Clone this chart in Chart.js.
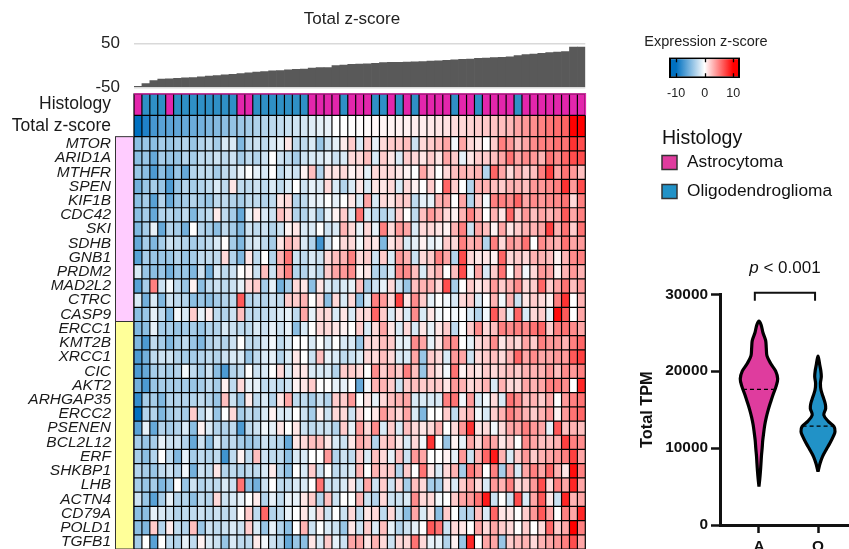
<!DOCTYPE html>
<html lang="en">
<head>
<meta charset="utf-8">
<title>Total z-score heatmap</title>
<script src="https://cdn.jsdelivr.net/npm/chart.js@4.4.1/dist/chart.umd.min.js"></script>
<style>
  html, body { margin: 0; padding: 0; background: #ffffff; }
  #stage { position: relative; width: 849px; height: 549px; overflow: hidden; background: #ffffff; }
  #stage canvas { position: absolute; }
</style>
</head>
<body>
<div id="stage">
  <canvas id="totals" width="704" height="92" style="left:0;top:0;width:704px;height:92px"></canvas>
  <canvas id="heatmap" width="600" height="461" style="left:0;top:88px;width:600px;height:461px"></canvas>
  <canvas id="scaleKey" width="172" height="85" style="left:620px;top:25px;width:172px;height:85px"></canvas>
  <canvas id="violin" width="229" height="429" style="left:620px;top:120px;width:229px;height:429px"></canvas>
</div>
<script>
// ---------------------------------------------------------------------------
// Data
// ---------------------------------------------------------------------------

// Histology of each sample, samples ordered by total z-score (A = astrocytoma, O = oligodendroglioma)
const histology = [
  'A','O','O','O','A',
  'O','O','O','O','O','O','O','O',
  'A','A',
  'O','O','O','O','O','O','O',
  'A','A','A','A',
  'O',
  'A','A','A',
  'O','O',
  'A','O','A','O',
  'A','A','A','A',
  'O','A','A','O',
  'A','A','A','A',
  'O',
  'A','A','A','A','A','A','A','A'
];

// Total z-score per sample
const totalZ = [
  -47.5, -41.5, -34.5, -31, -30.5, -29.5, -28.5, -27.5, -26, -24,
  -23, -21.5, -20, -18.5, -17, -15, -14, -12.5, -11.5, -10,
  -9, -8, -6, -5, -4.5, 0, 1, 2.5, 3, 4,
  5, 6.5, 7, 7.5, 7.8, 8.2, 9, 10, 10.8, 11.8,
  13, 14, 15, 16.2, 17, 18, 19, 20, 23, 25,
  26.3, 28, 29.5, 30.5, 31.8, 42.5, 42.5
];

// Gene groups shown by the coloured strip left of the heatmap
const genesGroup1 = ['MTOR','ARID1A','MTHFR','SPEN','KIF1B','CDC42','SKI','SDHB','GNB1','PRDM2','MAD2L2','CTRC','CASP9'];
const genesGroup2 = ['ERCC1','KMT2B','XRCC1','CIC','AKT2','ARHGAP35','ERCC2','PSENEN','BCL2L12','ERF','SHKBP1','LHB','ACTN4','CD79A','POLD1','TGFB1'];

// Expression z-score, one row per gene (same order as the gene lists), one value per sample
const exprZ = [
  [-4.5,-4,-4.5,-3.5,-4,-3.5,-3,-4,-3,-2.5,-3.5,-1.5,-1.5,-5,-2.5,-2,-2.5,-1.5,-1, 1,-2.5,-2.5,-1.5,-4,-2,-1,0.8,2,-1.5,2,-1,1.5,2,2,2.5,-2,1.5,2, 2.5,3.5,-0.5,3.5,1.5,1,0,2,5,4,2.5,3.5,4.5,5,5,5.5,5.5,8,7],
  [-4.5,-4,-6,-3.5,-4,-4,-3,-3.5,-2.5,-2.5,-2,-2.5,-2,-3.5,-2.5,-3,-2,0,-2, -2.5,-3.5,-2,-1.5,-1.5,-1,-2,-1.5,1.5,1.5,2.5,-1.5,2,1,-1.5,2,1.5,1,2, 1,3.5,2,-1,1,2,2,2.5,3.5,5.5,3.5,4.5,4,3,5.5,4.5,6,7,7],
  [-4,-4.5,-7,-4.5,-6,-4,-6,-3,-2.5,-2.5,-3.5,-2.5,-2,-1,0,-1,-1.5,0,-2.5, -1.5,-2,0.5,2.5,-3,1,1,1.5,0.5,1,-1,1.5,1.5,1.5,1,0.5,0,3.5,1.5, 0,1.5,2.5,3,2.5,3,-3,6,3.5,1.5,3,2,2.5,5,7.5,3.5,5.5,4,2.5],
  [-5.5,-4,-3.5,-4,-7,-4,-3,-3.5,-3,-2.5,-1.5,-2.5,1,-2.5,-2.5,-2,-2.5,-1.5,-2.5, -1.5,0,-2,-1,-1.5,1.5,-1.5,-3,-1.5,1,-1.5,1,1,1.5,-1.5,1.5,0.5,0,2, 0,6,2,0,-3,3,3,2.5,2,3,3,2.5,4,4,4.5,5,8,4,7],
  [-4.5,-3.5,-6.5,-3,-6,-4,-3.5,-3,-3.5,-4,-2.5,-2.5,-3,-3.5,-2.5,-2.5,-3,-2.5,1, 1.5,-3,-2.5,-1,-1,0,-1,0,1,-1.5,3.5,-1.5,1.5,1,2,2,-2.5,-1,-1, 3,3.5,0,3.5,-3,2,-0.5,5,5,4.5,6,3.5,4.5,4,4.5,4.5,5.5,1.5,5],
  [-4.5,-3.5,-6,-3,-3,-3.5,-2.5,-5,-3,-2.5,0.8,-2.5,-3.5,-6,-1,0.8,-1.5,-2,2.5, 1.5,-3,-3,-1.5,-3.5,-1,0.5,2,-1.5,5.5,-1.5,-2.5,-3,-2,2,0,-2.5,2.5,4, 3,1.5,0.5,3,5,3,0,3,1,6,2,4,2.5,3.5,3,3.5,6.5,3.5,5],
  [-5,-3.5,-1,-6,-3,-3.5,-5.5,0,-3,-3.5,-4.5,-2.5,-3.5,-5,-2,-2.5,-2,-3,-2, 0.5,1,-1.5,-1.5,0,-2,-1.5,3,1.5,-1,1.5,-1,5,1.5,4,3.5,-1.5,1.5,1.5, 1,0.5,3,5,-2,3.5,2.5,0.5,3.5,1,2,3,3,3.5,7.5,3,5.5,2,5.5],
  [-6,-3.5,-5,-3.5,-2,-2.5,-3,-3.5,-3,-2.5,-1.5,0,-3.5,-5,-2,-1.5,-2.5,-3.5,1, 3,2,-1.5,-3,-7.5,-2,0,1.5,1.5,-0.5,1.5,1,-5,1,2,-1.5,-1,0.5,-1, -0.5,2,1.5,5,3,3.5,-3,5,1.5,4,3.5,5.5,0,4.5,3.5,3,5.5,3.5,4],
  [-6.5,-3.5,-4,-4,-4,-3,-4,-3.5,-2.5,-2.5,-2.5,1.5,-3,-5,1,-2.5,0,-3,3, 5.5,-2,-2.5,-1.5,-2,1.5,2.5,3,5,1.5,2,-2,2,-1.5,4,3,-2,1.5,2, 5,3.5,-3,7,1.5,1,1,0.5,6,1.5,2,1.5,3,3,2.5,0.5,3,4.5,5],
  [-1.5,-4,-4.5,-4,-5.5,-4,-4,-5,-2,-5.5,-1.5,-2.5,-2,0,0.5,-2,2.5,-2,3, 5,-3,-3,-1.5,-2.5,2,3.5,4,4.5,0.5,1,-3,-3,-1.5,4.5,4.5,2.5,-1.5,2, 3,0,2.5,7,-0.5,3.5,-1.5,2,5.5,0,3,-0.5,1.5,4,3.5,0.5,3,4,3],
  [-6.5,-3.5,5,-2,-0.5,-2.5,-4,0.5,-4.5,-2.5,-2,-2.5,-2,-1,1.5,2,-3.5,-1,-5.5, -3.5,1.5,1,-4.5,1,-1.5,-2,-1.5,-1,2.5,-3.5,-2,-1,1.5,-2,-4,2.5,3,3, 1.5,7,-3.5,0,2,1,1.5,4,2,3,4.5,1.5,2,6,2,3.5,5.5,2.5,4],
  [-1.5,-5.5,-1.5,-5,-2,-2.5,-3,-4.5,-4,-4.5,-3.5,-3,-2.5,6.5,-3,-2.5,-3,-2,-2.5, 2,2,3,0,1.5,-4.5,1.5,-1.5,1.5,-4.5,-1.5,5,4,1.5,7.5,1,4.5,2,-1, 0,-0.5,-1.5,1.5,2,-1.5,0,3,-0.5,3,-2,1,2,1.5,0.5,5,8,0,3],
  [-4.5,-4,-1,-2.5,-5,-0.5,-1.5,2,-1,0.8,-2.5,-3,-2,2.5,-2.5,-2.5,-2.5,-2,-1.5, -1,-2.5,3.5,-1,1.5,1.5,-1.5,1,-1.5,1.5,1.5,6,2,-1.5,1,-1.5,4.5,-1.5,1, -0.5,0,-0.5,0,-1.5,-3,-0.5,6.5,2.5,-1,6,-1.5,1.5,2,-1,9.5,6.5,0,3.5],
  [-5,-4.5,-1,-3.5,-3.5,-4,-3.5,-3.5,-4,-3,-3,-1.5,-2,-2.5,-2.5,-1.5,-2,-1,-2, -1,-4.5,-1.5,0,1.5,1.5,1,0.5,0,2,-1.5,1.5,3.5,1,-1.5,1.5,-1.5,1,-1, 1,2,-2.5,0,2,4.5,1.5,2.5,5,4.5,5,4.5,5.5,6,2,5,5.5,4.5,3.5],
  [-5,-7,-2.5,-3.5,-5,-3.5,-2.5,-4,-5,-3,-2.5,-3,-2,0,-2.5,-2.5,-1.5,-0.5,-2.5, -1.5,0,0,-1.5,0,-1.5,0,-1.5,-1.5,-4,1.5,1.5,2.5,2,-1,-1,4.5,3.5,-1, 1,4,4.5,0,-1,1.5,2,4.5,1,2,1.5,3.5,2,5,4,4,3,5,6],
  [-7,-5.5,-2.5,-2,-2,-3,-3.5,-3.5,-3,-2.5,-3,-2,-1.5,-1.5,-4,-2.5,-1.5,-1,-3, -1.5,1,0,-2,2.5,-1,-1.5,-2.5,-2,-1.5,1.5,1.5,2.5,1.5,-1.5,-1.5,3.5,-4,2, 1.5,-1.5,4,3.5,-2,1.5,2,2.5,1.5,3,6,3.5,4.5,3.5,3.5,4,4,6.5,7.5],
  [-7,-6,-3.5,-3,-3.5,-3,-0.5,-2.5,-3.5,-2,-4.5,-7,-3,-2.5,0,-2,-1.5,0,1.5, -1.5,1,1,-1.5,-1.5,-1.5,-3,2,2,1.5,0,4.5,2,3,2,5,2.5,-4,2, 1,-0.5,5.5,0.5,1.5,1,2,1.5,2,2.5,2,3,3,3,4,2.5,4.5,4,5],
  [-5.5,-7,-4,-3.5,-3.5,-3.5,-3.5,-4,-3.5,-2.5,-3.5,0.5,-2.5,1.5,-1,-1,-2.5,-2,-2.5, -2,0.5,1,2,0,0,-1,-1,0,-6,-0.5,3,3,2,-2,2,2.5,2,2, 2,1,4,3,1.5,2,3,-1.5,3,1.5,1.5,3.5,3,3.5,5,5,4.5,0,8.5],
  [-8,-3.5,-3.5,-5,-3,-3,-3,-3,-2.5,-3,-4,2.5,-2,-4,0.8,-2.5,-1.5,-3,1, 3.5,-2.5,-2.5,-3.5,-2,-3,2,2,4,0,1,-1,1.5,2.5,3,3.5,-1.5,-1.5,-1.5, -1.5,5,5.5,-0.5,4,-1.5,-0.5,1.5,-1.5,5.5,4.5,2.5,3,2,3.5,0,4,5,5.5],
  [-10,-3,-3,-5,-3.5,-3,-3.5,2,-2.5,-1,-4,0,1.5,-3.5,-2.5,-3,-1.5,0.5,-1.5, -1.5,0,-2,-3.5,0.5,-2,1.5,1.5,-2,1.5,0,1,4,2.5,1.5,3.5,-1.5,-5,0, 0,2,-2.5,2,3,-0.5,-1.5,2,3,5,4,3,2,3,4,0.5,4,5.5,6],
  [-6.5,-1,-6,-3,-3.5,-3,-1.5,-4.5,0.5,-1.5,-3,-3,-2.5,-7,-2.5,-2,-0.5,-1,1, 0,1,-2,-2.5,-2,-2,-3,2,-1,4,1.5,4.5,-1.5,2,-1.5,2.5,1.5,1,1.5, 3,0,1.5,4,8,1,1.5,-0.5,1.5,3.5,3.5,5,4,3.5,-1,6.5,2.5,3,2.5],
  [-3.5,-4,-3.5,-1,-2,-2,-3,-6,-2,-4.5,-1.5,-3,-2.5,-3.5,-4,-3.5,-2,-2.5,-3, -6,1,1.5,2.5,2.5,1,-1.5,-2,1,3.5,2.5,-3,2,2.5,1,-1.5,1.5,-0.5,8, 0,-4,0.5,-1,3.5,1.5,4,3.5,1,2,0,4.5,3.5,2.5,2.5,3,7.5,5,4.5],
  [-3.5,-4.5,-3,0,-2.5,-5,-1,-3.5,-2.5,-3,-2.5,-7.5,-2.5,0.5,-2.5,2.5,-2,-2.5,-2.5, -4.5,-1.5,-1.5,0,0,4,-3,-2,-2.5,2,-1.5,2.5,1.5,-1,2.5,-2,4,3.5,0, 0,0.5,-1,4,-2,3,6,9,3,-1.5,2,4,2,3,3.5,4,5,7.5,3.5],
  [-3,-3.5,-4,-2.5,-2,-3,-0.5,-5.5,-2,-2.5,1,-3,-2.5,-3,-2.5,-2.5,-1.5,0.8,-3, -4.5,0,-1.5,2,-2,0,-2.5,-2,-1.5,3,0,3,2,2,-3,2,0,5.5,1, -1.5,1.5,3,-3.5,5.5,4,0,5,-3.5,3.5,-1.5,3.5,5,3.5,6,3,1,9.5,5],
  [-3.5,-4,-3.5,-5,-4,0,-4,-2,-3,-2.5,-2.5,-1.5,-2,5.5,-4.5,-5.5,-2,0,-2.5, -2.5,-1.5,-1.5,0,5.5,-2,-2,-1.5,1,-2,3.5,-2,2,-2,1.5,-3.5,2.5,1.5,-3.5, -3.5,1,-1.5,2,3.5,1.5,-1.5,4,3,5,1.5,2,4,7,1.5,5,3.5,8.5,3.5],
  [-2,-4,-6.5,-3.5,-1,-3,-3,-4.5,-2.5,-3,1.5,-2,-1.5,-1,0,0.8,-3,-1,-2.5, -1,-1,1,2,-3,2.5,-2,0,0,3,-2,-3,1.5,-2,-2,-1.5,4.5,1.5,1.5, -0.5,0,2,3.5,4,5.5,9,-2,0,-2,7,-1.5,3.5,6.5,1,-2,8.5,3,3.5],
  [-4.5,-4.5,-1,-1.5,-2,-3,-2.5,-2.5,-2,-2.5,-2,-2.5,-2,0,2,-2.5,6,-3,-2.5, -1,0,1,-1,1.5,-2,0,-2,1.5,-2.5,1,1.5,-2.5,1.5,-2,-4.5,3.5,-1.5,1, -4.5,2,0,-3,-3,2.5,-1.5,6,1,1,0,2,4,6.5,3.5,0,5,3.5,8.5],
  [-4.5,-5,2,-3,0.8,-2.5,-3,2.5,-4,-2,-2.5,-2,-1.5,-2,2,-1.5,-4,-1,-3, -4.5,0,3,-2,0,-1.5,-2,-4,1,-2,2,-1.5,2.5,-1,-3,-2,-1,0,6.5, 5.5,-2,1.5,1,0,3.5,1.5,3.5,2,1.5,0,2,0,1.5,6,2,3.5,10,5],
  [-3.5,0,-6.5,0,-2.5,-3,-1,-2.5,0.5,-1.5,-2,-4,-1.5,-2.5,-2.5,0.8,-0.5,-2,-3, -6,-4,-4.5,1,-1.5,2,-1,-2,3.5,3.5,1,3,1.5,-2,1.5,1.5,5.5,1.5,-1, -1,-3,0.5,-4,8.5,0,3.5,3.5,-4,2,2.5,3,1.5,3,3.5,4,5,7,3.5]
];

// Colour key range and labelled values
const keyRange = [-12.5, 12.4];
const keyTicks = [-10, 0, 10];

// Total TPM distribution per histology: TPM levels and violin half-widths (in group units)
const histologyCodes = ['A', 'O'];
const histologyNames = ['Astrocytoma', 'Oligodendroglioma'];
const tpmLevelsA = [5000, 6000, 7000, 8000, 9000, 10000, 11000, 12000, 13000, 14000, 15000, 16000, 17000, 18000, 19000, 20000, 21000, 22000, 23000, 24000, 25000, 26000, 26500];
const densityA   = [0, 0.014, 0.025, 0.034, 0.042, 0.054, 0.064, 0.080, 0.098, 0.124, 0.158, 0.198, 0.241, 0.288, 0.317, 0.283, 0.198, 0.136, 0.124, 0.113, 0.068, 0.037, 0];
const tpmLevelsO = [6930, 8000, 8900, 9750, 10600, 11500, 12150, 12800, 13450, 14300, 15150, 15800, 16700, 17550, 18400, 19300, 20150, 20800, 21400, 21970];
const densityO   = [0, 0.034, 0.076, 0.136, 0.198, 0.257, 0.288, 0.271, 0.178, 0.098, 0.130, 0.122, 0.085, 0.051, 0.041, 0.056, 0.046, 0.030, 0.017, 0];
const medianTPM  = [17640, 12870];
const tpmTicks   = [0, 10000, 20000, 30000];
const pValueText = '< 0.001';

// ---------------------------------------------------------------------------
// Styling helpers
// ---------------------------------------------------------------------------
Chart.defaults.font.family = "'Liberation Sans', Arial, Helvetica, sans-serif";
Chart.defaults.color = '#222';
Chart.defaults.animation = false;
Chart.defaults.events = [];
Chart.defaults.plugins.legend.display = false;
Chart.defaults.plugins.tooltip.enabled = false;

const FONT = "'Liberation Sans', Arial, Helvetica, sans-serif";
const HEAT_HIST_COLORS = { A: '#e326ac', O: '#2f90c6' };
const HIST_COLORS = ['#df3c9e', '#2192c7'];
const GROUP_FILL = ['#ffccff', '#ffff99'];

// an invisible axis that only reserves horizontal room
const spacer = width => ({
  display: true,
  afterFit: s => { s.width = width; s.paddingTop = 0; s.paddingBottom = 0; },
  ticks: { display: false },
  grid: { display: false, drawTicks: false },
  border: { display: false }
});

// blue (negative) - white - red (positive) ramp, t in [-1, 1]
function ramp(t) {
  const a = Math.min(1, Math.abs(t));
  const end = t < 0 ? [0, 112, 192] : [255, 0, 0];
  const c = end.map(e => Math.round(255 + (e - 255) * a));
  return `rgb(${c[0]},${c[1]},${c[2]})`;
}
const zColor = v => ramp(v / 10);
const totalMin = Math.min(...totalZ), totalMax = Math.max(...totalZ);
function totalColor(v) {
  return ramp(v < 0 ? -Math.min(1, v / totalMin) : Math.pow(Math.min(1, v / totalMax), 1.7));
}

const sampleIds = histology.map((h, i) => 'S' + (i + 1));
const genes = genesGroup1.concat(genesGroup2);

// ---------------------------------------------------------------------------
// Total z-score bars
// ---------------------------------------------------------------------------
new Chart(document.getElementById('totals'), {
  type: 'bar',
  data: {
    labels: sampleIds,
    datasets: [{
      data: totalZ, base: -50, backgroundColor: '#595959', borderWidth: 0,
      barPercentage: 1, categoryPercentage: 1
    }]
  },
  options: {
    responsive: false,
    layout: { padding: { left: 0, right: 0, top: 0, bottom: 4.7 } },
    plugins: {
      title: {
        display: true, text: 'Total z-score', color: '#222',
        font: { size: 17, weight: 'normal' }, padding: { top: 9, bottom: 14.3 }
      }
    },
    scales: {
      x: { display: false },
      y: {
        min: -50, max: 50,
        afterBuildTicks: s => { s.ticks = [{ value: -50 }, { value: 50 }]; },
        afterFit: s => { s.width = 134; s.paddingTop = 0; s.paddingBottom = 0; },
        grid: { color: '#d9d9d9', lineWidth: 1.5, drawTicks: false },
        border: { display: false },
        ticks: { padding: 14, color: '#222', font: { size: 17 } }
      },
      yRoom: Object.assign({ position: 'right' }, spacer(118.7))
    }
  }
});

// ---------------------------------------------------------------------------
// Heatmap: histology row, total z-score row and one row per gene
// ---------------------------------------------------------------------------
const ROW_GAP = 0.042;
const HIST_ROW = [-3, -1.5];
const TOTAL_ROW = [-1.5, 0];
const span = (lo, hi) => sampleIds.map(() => [lo + ROW_GAP, hi - ROW_GAP]);

const heatSets = [
  { label: 'Histology', data: span(HIST_ROW[0], HIST_ROW[1]), backgroundColor: histology.map(h => HEAT_HIST_COLORS[h]) },
  { label: 'Total z-score', data: span(TOTAL_ROW[0], TOTAL_ROW[1]), backgroundColor: totalZ.map(totalColor) },
  ...exprZ.map((row, r) => ({
    label: genes[r],
    data: row.map(() => [r + ROW_GAP, r + 1 - ROW_GAP]),
    backgroundColor: row.map(zColor)
  }))
];
heatSets.forEach(d => Object.assign(d, {
  grouped: false, barPercentage: 1, categoryPercentage: 0.85, borderWidth: 0, inflateAmount: 0
}));

const rowNames = ['Histology', 'Total z-score', ...genes];
const rowTicks = [(HIST_ROW[0] + HIST_ROW[1]) / 2, (TOTAL_ROW[0] + TOTAL_ROW[1]) / 2, ...genes.map((g, i) => i + 0.5)];

// black grid behind the cells
const gridBackdrop = {
  id: 'gridBackdrop',
  beforeDatasetsDraw(chart) {
    const { ctx, chartArea: a, scales: { y } } = chart;
    const top = y.getPixelForValue(HIST_ROW[0]);
    const bottom = y.getPixelForValue(genes.length);
    ctx.save();
    ctx.fillStyle = '#000';
    ctx.fillRect(a.left - 0.6, top - 0.6, a.right - a.left + 1.2, bottom - top + 1.2);
    ctx.restore();
  }
};

// gene group strip left of the heatmap, and the outline of the histology row
const groupStrip = {
  id: 'groupStrip',
  afterDatasetsDraw(chart) {
    const { ctx, chartArea: a, scales: { y } } = chart;
    let start = 0;
    [genesGroup1, genesGroup2].forEach((group, k) => {
      const y0 = y.getPixelForValue(start);
      const y1 = y.getPixelForValue(start + group.length);
      ctx.save();
      ctx.fillStyle = GROUP_FILL[k];
      ctx.fillRect(a.left - 19, y0, 18.4, y1 - y0);
      ctx.strokeStyle = '#333';
      ctx.lineWidth = 1;
      ctx.strokeRect(a.left - 18.5, y0, 18, y1 - y0);
      ctx.restore();
      start += group.length;
    });
    const hTop = y.getPixelForValue(HIST_ROW[0]) - 0.2;
    const hBottom = y.getPixelForValue(HIST_ROW[1]);
    ctx.save();
    ctx.strokeStyle = HEAT_HIST_COLORS.A;
    ctx.lineWidth = 1.2;
    ctx.beginPath();
    ctx.moveTo(a.left, hTop);
    ctx.lineTo(a.right + 0.2, hTop);
    ctx.lineTo(a.right + 0.2, hBottom);
    ctx.stroke();
    ctx.restore();
  }
};

new Chart(document.getElementById('heatmap'), {
  type: 'bar',
  data: { labels: sampleIds, datasets: heatSets },
  options: {
    responsive: false,
    layout: { padding: { left: 0, right: 14.7, top: 6, bottom: 0 } },
    scales: {
      x: { display: false },
      y: {
        reverse: true, min: HIST_ROW[0], max: genes.length,
        afterBuildTicks: s => { s.ticks = rowTicks.map(v => ({ value: v })); },
        afterFit: s => { s.width = 134; s.paddingTop = 0; s.paddingBottom = 0; },
        grid: { display: false, drawTicks: false },
        border: { display: false },
        ticks: {
          autoSkip: false, padding: 23, color: '#1a1a1a',
          callback: (v, i) => rowNames[i],
          font: c => c.index < 2 ? { size: 17.5 } : { size: 15.5, style: 'italic' }
        }
      }
    }
  },
  plugins: [gridBackdrop, groupStrip]
});

// ---------------------------------------------------------------------------
// Expression z-score colour key
// ---------------------------------------------------------------------------
function keyGradient(chart) {
  const x = chart.scales.x;
  if (!chart.chartArea || !x) return '#ffffff';
  const g = chart.ctx.createLinearGradient(x.getPixelForValue(-10), 0, x.getPixelForValue(10), 0);
  for (let v = -10; v <= 10; v += 2.5) g.addColorStop((v + 10) / 20, zColor(v));
  return g;
}
const keyMarks = {
  id: 'keyMarks',
  afterDatasetsDraw(chart) {
    const { ctx, chartArea: a, scales: { x } } = chart;
    ctx.save();
    ctx.strokeStyle = '#000';
    ctx.lineWidth = 1.3;
    keyTicks.forEach(v => {
      const px = Math.round(x.getPixelForValue(v)) + 0.5;
      ctx.beginPath();
      ctx.moveTo(px, a.top + 1); ctx.lineTo(px, a.top + 5);
      ctx.moveTo(px, a.bottom - 1); ctx.lineTo(px, a.bottom - 5);
      ctx.stroke();
    });
    ctx.restore();
  }
};
new Chart(document.getElementById('scaleKey'), {
  type: 'bar',
  data: {
    labels: ['z'],
    datasets: [{
      data: [keyRange],
      backgroundColor: c => keyGradient(c.chart),
      borderColor: '#000', borderWidth: 2, borderSkipped: false,
      barPercentage: 1, categoryPercentage: 1, inflateAmount: 0
    }]
  },
  options: {
    indexAxis: 'y',
    responsive: false,
    layout: { padding: 0 },
    plugins: {
      title: {
        display: true, text: 'Expression z-score', color: '#222',
        font: { size: 14.5, weight: 'normal' }, padding: { top: 8.3, bottom: 6.6 }
      }
    },
    scales: {
      x: {
        type: 'linear', min: keyRange[0], max: keyRange[1],
        afterBuildTicks: s => { s.ticks = keyTicks.map(v => ({ value: v })); },
        afterFit: s => { s.height = 31.7; s.paddingLeft = 0; s.paddingRight = 0; },
        grid: { display: false, drawTicks: false },
        border: { display: false },
        ticks: { padding: 7.5, color: '#222', font: { size: 12.5 } }
      },
      y: Object.assign({ position: 'left' }, spacer(49)),
      yRoom: Object.assign({ position: 'right', type: 'linear' }, spacer(52))
    }
  },
  plugins: [keyMarks]
});

// ---------------------------------------------------------------------------
// Total TPM violins by histology
// ---------------------------------------------------------------------------
function violinOutline(levels, dens, cx) {
  const left = levels.map((t, i) => ({ x: cx - dens[i], y: t }));
  const right = levels.map((t, i) => ({ x: cx + dens[i], y: t })).reverse();
  return left.concat(right.slice(1));
}
function halfWidthAt(levels, dens, t) {
  for (let i = 1; i < levels.length; i++) {
    if (t <= levels[i]) {
      const f = (t - levels[i - 1]) / (levels[i] - levels[i - 1]);
      return dens[i - 1] + f * (dens[i] - dens[i - 1]);
    }
  }
  return 0;
}
const violinSets = [[tpmLevelsA, densityA], [tpmLevelsO, densityO]];
const violinDatasets = [];
violinSets.forEach(([levels, dens], g) => {
  violinDatasets.push({
    label: histologyNames[g],
    data: violinOutline(levels, dens, g),
    showLine: true, fill: 'shape', tension: 0.35,
    backgroundColor: HIST_COLORS[g], borderColor: '#000', borderWidth: 3.2,
    borderJoinStyle: 'round', pointRadius: 0, order: 2
  });
  const w = halfWidthAt(levels, dens, medianTPM[g]);
  violinDatasets.push({
    label: histologyNames[g] + ' median',
    data: [{ x: g - w, y: medianTPM[g] }, { x: g + w, y: medianTPM[g] }],
    showLine: true, fill: false, borderColor: '#000', borderWidth: 1.3,
    borderDash: [4, 3], pointRadius: 0, order: 1
  });
});

const violinNotes = {
  id: 'violinNotes',
  afterDraw(chart) {
    const { ctx, scales: { x, y } } = chart;
    ctx.save();
    // significance bracket
    const xa = x.getPixelForValue(-0.07), xo = x.getPixelForValue(0.95);
    const yb = y.getPixelForValue(tpmTicks[tpmTicks.length - 1]) - 1.6;
    ctx.strokeStyle = '#111';
    ctx.lineWidth = 2;
    ctx.beginPath();
    ctx.moveTo(xa, yb + 8); ctx.lineTo(xa, yb); ctx.lineTo(xo, yb); ctx.lineTo(xo, yb + 8);
    ctx.stroke();
    // p-value label
    ctx.fillStyle = '#111';
    ctx.textBaseline = 'middle';
    ctx.textAlign = 'left';
    const pFont = `italic 17px ${FONT}`, restFont = `17px ${FONT}`;
    ctx.font = pFont; const wp = ctx.measureText('p').width;
    ctx.font = restFont; const wr = ctx.measureText(' ' + pValueText).width;
    const x0 = (xa + xo) / 2 - (wp + wr) / 2;
    const ty = yb - 24.7;
    ctx.font = pFont; ctx.fillText('p', x0, ty);
    ctx.font = restFont; ctx.fillText(' ' + pValueText, x0 + wp, ty);
    // histology legend
    ctx.fillStyle = '#111';
    ctx.font = `19.5px ${FONT}`;
    ctx.fillText('Histology', 42, 18.3);
    ctx.font = `17.3px ${FONT}`;
    histologyNames.forEach((name, i) => {
      const cy = 42.5 + i * 29;
      ctx.fillStyle = HIST_COLORS[i];
      ctx.fillRect(42, cy - 7, 15, 14);
      ctx.strokeStyle = '#333';
      ctx.lineWidth = 1.5;
      ctx.strokeRect(42, cy - 7, 15, 14);
      ctx.fillStyle = '#111';
      ctx.fillText(name, 67, cy);
    });
    ctx.restore();
  }
};

new Chart(document.getElementById('violin'), {
  type: 'scatter',
  data: { datasets: violinDatasets },
  options: {
    responsive: false,
    layout: { padding: { left: 0, right: 0, top: 174.3, bottom: 0 } },
    scales: {
      x: {
        type: 'linear', min: -0.66, max: 1.525,
        afterBuildTicks: s => { s.ticks = histologyCodes.map((c, i) => ({ value: i })); },
        afterFit: s => { s.height = 24; s.paddingLeft = 0; s.paddingRight = 0; },
        grid: { drawOnChartArea: false, tickLength: 8, tickWidth: 2.5, tickColor: '#111' },
        border: { color: '#111', width: 3 },
        ticks: { padding: 5, color: '#111', font: { size: 15.4, weight: 'bold' }, callback: (v, i) => histologyCodes[i] }
      },
      y: {
        min: 0, max: tpmTicks[tpmTicks.length - 1],
        afterBuildTicks: s => { s.ticks = tpmTicks.map(v => ({ value: v })); },
        afterFit: s => { s.width = 100; s.paddingTop = 0; s.paddingBottom = 0; },
        grid: { drawOnChartArea: false, tickLength: 9, tickWidth: 2.5, tickColor: '#111' },
        border: { color: '#111', width: 3 },
        ticks: { padding: 3, color: '#111', font: { size: 15.4, weight: 'bold' }, callback: v => String(v) },
        title: {
          display: true, text: 'Total TPM', color: '#111',
          font: { size: 16.3, weight: 'bold' }, padding: { top: 18.2, bottom: 0 }
        }
      }
    }
  },
  plugins: [violinNotes]
});
</script>
</body>
</html>
